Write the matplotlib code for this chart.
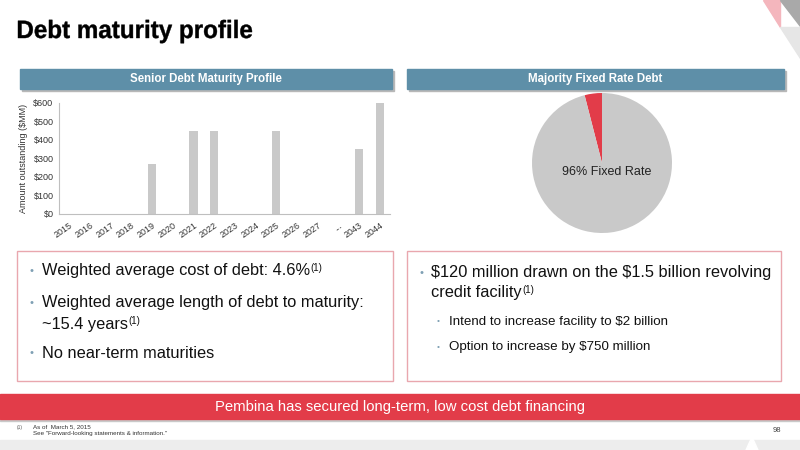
import matplotlib.pyplot as plt
from matplotlib.patches import Rectangle, Polygon, PathPatch
from matplotlib.textpath import TextPath
from matplotlib.font_manager import FontProperties
from matplotlib.transforms import Affine2D, IdentityTransform

plt.rcParams['font.family'] = ['Liberation Sans', 'DejaVu Sans']
plt.rcParams['text.parse_math'] = False

years = ["2015", "2016", "2017", "2018", "2019", "2020", "2021", "2022",
         "2023", "2024", "2025", "2026", "2027", "...", "2043", "2044"]
amounts = [0, 0, 0, 0, 270, 0, 450, 450, 0, 0, 450, 0, 0, 0, 350, 600]
yticks = [0, 100, 200, 300, 400, 500, 600]

rate_shares = [4, 96]
rate_label = "96% Fixed Rate"

left_bullets = ["Weighted average cost of debt: 4.6%",
                "Weighted average length of debt to maturity:\n~15.4 years",
                "No near-term maturities"]
right_bullet = "$120 million drawn on the $1.5 billion revolving\ncredit facility"
right_subs = ["Intend to increase facility to $2 billion",
              "Option to increase by $750 million"]

W, H = 800, 450
RED = "#E23C49"
BLUE = "#5E8FA8"
GREY = "#C9C9C9"
BULLET = "#7FA0B4"
BODY = 11.8


def fx(x):
    return x / W


def fy(y):
    return 1 - y / H


def box(x0, y0, x1, y1):
    return [fx(x0), fy(y1), (x1 - x0) / W, (y1 - y0) / H]


fig = plt.figure(figsize=(8, 4.5), dpi=100)
fig.patch.set_facecolor("white")

# background decorations
fig.patches.append(Rectangle((0, 0), 1, fy(440), transform=fig.transFigure,
                             color="#EDEDED", zorder=0))
fig.patches.append(Polygon([(fx(746), fy(450)), (fx(752), fy(437)), (fx(758), fy(450))],
                           closed=True, transform=fig.transFigure, color="white", zorder=1))
fig.patches.append(Polygon([(fx(763), fy(0)), (fx(780), fy(0)), (fx(780), fy(27))],
                           closed=True, transform=fig.transFigure, color="#F4B6BD", zorder=1))
fig.patches.append(Polygon([(fx(780), fy(0)), (fx(800), fy(0)), (fx(800), fy(26))],
                           closed=True, transform=fig.transFigure, color="#A9A9A9", zorder=1))
fig.patches.append(Polygon([(fx(780), fy(27)), (fx(800), fy(27)), (fx(800), fy(58))],
                           closed=True, transform=fig.transFigure, color="#E6E6E6", zorder=1))

# title, squeezed horizontally like the condensed slide font
tp = TextPath((0, 0), "Debt maturity profile", size=25,
              prop=FontProperties(family="Liberation Sans", weight="bold"))
ext = tp.get_extents()
sx = 234 / ext.width
title = PathPatch(tp, facecolor="black", edgecolor="black", lw=0.3,
                  transform=Affine2D().translate(-ext.x0, 0).scale(sx, 1)
                  .translate(18, H - 38) + IdentityTransform())
fig.add_artist(title)

# section headers
for (x0, x1, label) in [(20, 392, "Senior Debt Maturity Profile"),
                        (407, 784, "Majority Fixed Rate Debt")]:
    fig.patches.append(Rectangle((fx(x0 + 2), fy(91)), (x1 - x0) / W, 20 / H,
                                 transform=fig.transFigure, color="#B8B8B8", zorder=2))
    fig.patches.append(Rectangle((fx(x0), fy(89)), (x1 - x0) / W, 20 / H,
                                 transform=fig.transFigure, color=BLUE, zorder=3))
    fig.text(fx((x0 + x1) / 2), fy(79), label, fontsize=8.3, fontweight="bold",
             color="white", ha="center", va="center", zorder=4)

# bar chart
ax = fig.add_axes(box(59, 103, 390, 214))
x = range(len(years))
ax.bar(x, amounts, width=0.4, color=GREY)
ax.set_xlim(-0.5, len(years) - 0.5)
ax.set_ylim(0, 600)
ax.set_yticks(yticks)
ax.set_yticklabels(["$%d" % v for v in yticks], fontsize=6.5, color="#333333")
ax.set_xticks(list(x))
ax.set_xticklabels(years, fontsize=6.5, color="#333333", rotation=35,
                   ha="right", va="top", rotation_mode="anchor")
ax.tick_params(length=0, pad=4)
ax.tick_params(axis="x", pad=5)
for s in ["top", "right"]:
    ax.spines[s].set_visible(False)
for s in ["left", "bottom"]:
    ax.spines[s].set_color("#BFBFBF")
    ax.spines[s].set_linewidth(0.8)
ax.set_ylabel("Amount outstanding ($MM)", fontsize=6.5, color="#333333", labelpad=4)

# pie chart
pax = fig.add_axes(box(532, 93, 672, 233))
pax.pie(rate_shares, colors=[RED, GREY], startangle=90, counterclock=True)
pax.set_xlim(-1, 1)
pax.set_ylim(-1, 1)
pax.text(0.07, -0.13, rate_label, fontsize=9, ha="center", va="center", color="#222222")

# text boxes
for (x0, x1) in [(17, 393), (407, 781)]:
    fig.patches.append(Rectangle((fx(x0), fy(381)), (x1 - x0) / W, 130 / H,
                                 transform=fig.transFigure, fill=False,
                                 edgecolor="#E9A7AE", lw=1, zorder=2))


def sup(txt_artist, size):
    fig.add_artist(plt.Annotation("(1)", xy=(1, 1), xycoords=txt_artist,
                                  xytext=(0.5, 0.5), textcoords="offset points",
                                  fontsize=size, ha="left", va="top",
                                  color="#111111"))


def bullet_line(x, y, text, size):
    return fig.text(fx(x), fy(y), text, fontsize=size, color="#111111",
                    ha="left", va="center")


# left box: one artist per rendered line so superscripts can follow line ends
left_lines = [(271, left_bullets[0], True, True),
              (303, left_bullets[1].split("\n")[0], True, False),
              (324, left_bullets[1].split("\n")[1], False, True),
              (353, left_bullets[2], True, False)]
for y, text, has_dot, has_sup in left_lines:
    if has_dot:
        fig.text(fx(30), fy(y), "\u2022", fontsize=8, color=BULLET, ha="left", va="center")
    t = bullet_line(42, y, text, BODY)
    if has_sup:
        sup(t, 7)

rb = right_bullet.split("\n")
fig.text(fx(419), fy(273), "\u2022", fontsize=8, color=BULLET, ha="left", va="center")
bullet_line(431, 273, rb[0], BODY)
t = bullet_line(431, 293, rb[1], BODY)
sup(t, 7)
for text, y in zip(right_subs, [322, 347]):
    fig.text(fx(437), fy(y), "\u2022", fontsize=6, color=BULLET, ha="left", va="center")
    bullet_line(449, y, text, 9.6)

# banner
fig.patches.append(Rectangle((0, fy(421)), 1, 26 / H, transform=fig.transFigure,
                             color="#C9C9C9", zorder=2))
fig.patches.append(Rectangle((0, fy(419)), 1, 25 / H, transform=fig.transFigure,
                             color=RED, zorder=3))
fig.text(0.5, fy(407), "Pembina has secured long-term, low cost debt financing",
         fontsize=10.7, color="white", ha="center", va="center", zorder=4)

# footnotes
fig.text(fx(17), fy(427), "(1)", fontsize=3.5, color="#555555", ha="left", va="center")
fig.text(fx(33), fy(427), "As of  March 5, 2015", fontsize=4.5, color="#333333",
         ha="left", va="center")
fig.text(fx(33), fy(434), "See \"Forward-looking statements & information.\"",
         fontsize=4.5, color="#333333", ha="left", va="center")
fig.text(fx(781), fy(430), "98", fontsize=5.5, color="#444444", ha="right", va="center")

fig.savefig("out.png", dpi=100, facecolor="white")
